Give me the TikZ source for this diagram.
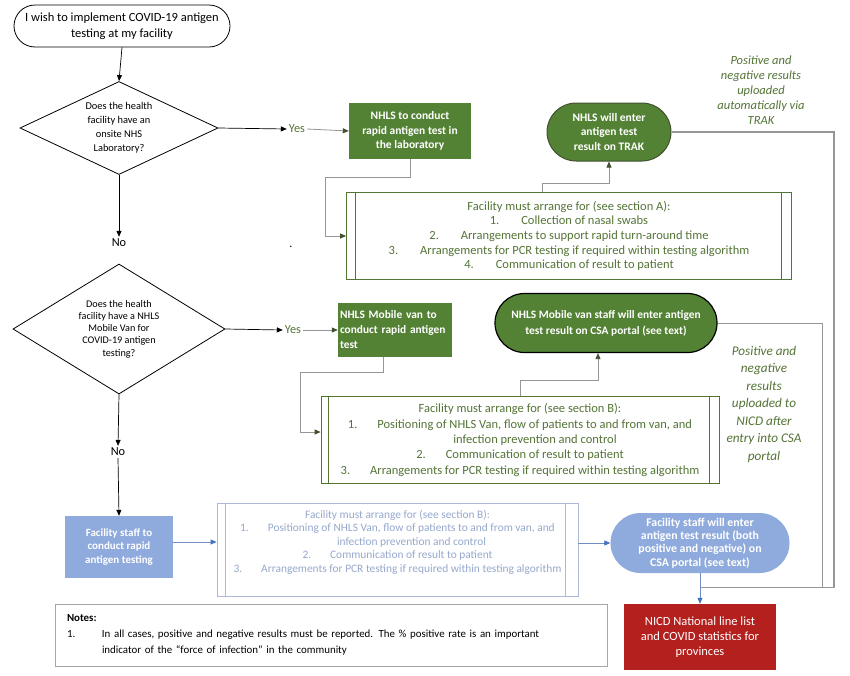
\documentclass[tikz,border=0pt]{standalone}
\usepackage{fontspec}
\setmainfont{Carlito}
\usepackage{tikz}
\usetikzlibrary{shapes.geometric}
\usetikzlibrary{shapes.misc}
\usetikzlibrary{arrows.meta}
\usetikzlibrary{calc}
\usepackage{xcolor}
\definecolor{darkgreen}{RGB}{84,130,53}
\definecolor{textgreen}{RGB}{84,116,54}
\definecolor{tipgreen}{RGB}{66,80,50}
\definecolor{linegray}{RGB}{150,150,150}
\definecolor{lightblue}{RGB}{143,170,220}
\definecolor{bluegray}{RGB}{150,168,205}
\definecolor{blueline}{RGB}{112,142,196}
\definecolor{bluetip}{RGB}{68,114,196}
\definecolor{nicdred}{RGB}{180,32,30}
\newcommand{\fsz}[2]{\fontsize{#1}{#2}\selectfont}
\tikzset{
  terminal/.style={rounded rectangle, draw, align=center, inner sep=2pt},
  question/.style={diamond, draw, align=center, inner sep=0pt, font=\fsz{10.4}{14}},
  greenbox/.style={rectangle, fill=darkgreen, text=white, font=\bfseries\fsz{11.5}{14.5}, inner sep=2pt},
  predefined/.style={rectangle, draw=textgreen, line width=0.8pt, text=textgreen, align=center, inner sep=2pt},
  uploadnote/.style={text=textgreen, font=\itshape\fsz{12.5}{15}, align=center},
  answer/.style={font=\fsz{12.3}{14}, inner sep=2pt},
  blackarrow/.style={draw=black, line width=0.7pt, -{Triangle[length=6pt,width=5pt]}},
  grayarrow/.style={draw=linegray, line width=0.8pt, -{Triangle[length=6pt,width=5pt,color=tipgreen]}},
  grayline/.style={draw=linegray, line width=0.9pt},
  bluearrow/.style={draw=blueline, line width=0.8pt, -{Triangle[length=6pt,width=5pt,color=bluetip]}},
}

\begin{document}
\begin{tikzpicture}[x=1pt, y=-1pt]

%%%%%%%%%%%%%%%%%%%%%%%%%%%%%%%%%%%%%%%%%%%%%%%%%%%%%%%%%%%%%% Setup
\path[fill=white] (0,0) rectangle (850,675);
\useasboundingbox (0,0) rectangle (850,675);

\node[terminal, line width=0.8pt, minimum width=220pt, minimum height=42pt, font=\fsz{12.5}{15.5}] (start) at (122,26)
  {I wish to implement COVID-19 antigen\\testing at my facility};

%%%%%%%%%%%%%%%%%%%%%%%%%%%%%%%%%%%%%%%%%%%%%%%%%%%%%%%%%%%%%% Lab branch
\node[question, aspect=2.13, minimum width=198pt, minimum height=93pt, line width=0.8pt] (qlab) at (119,128)
  {Does the health\\facility have an\\onsite NHS\\Laboratory?};
\node[answer, text=textgreen] (yeslab) at (297,129) {Yes};
\node[answer] (nolab) at (119,243) {No};
\node[font=\fsz{12}{14}] (dot) at (291,247) {.};

\node[greenbox, align=center, minimum width=122pt, minimum height=56pt] (lab) at (410,131)
  {NHLS to conduct\\rapid antigen test in\\the laboratory};
\node[terminal, fill=darkgreen, draw=tipgreen, line width=1pt, text=white, font=\bfseries\fsz{11.5}{14.5},
  minimum width=128pt, minimum height=58pt] (trak) at (609,132)
  {NHLS will enter\\antigen test\\result on TRAK};

\node[predefined, minimum width=445pt, minimum height=87pt, font=\fsz{12.5}{14.6}] (boxA) at (569,236)
  {Facility must arrange for (see section A):\\
   1.\hspace{22pt}Collection of nasal swabs\\
   2.\hspace{22pt}Arrangements to support rapid turn-around time\\
   3.\hspace{22pt}Arrangements for PCR testing if required within testing algorithm\\
   4.\hspace{22pt}Communication of result to patient};
\draw[textgreen, line width=0.8pt] ($(boxA.north west)+(9,0)$) -- ($(boxA.south west)+(9,0)$);
\draw[textgreen, line width=0.8pt] ($(boxA.north east)+(-11,0)$) -- ($(boxA.south east)+(-11,0)$);

\node[uploadnote] (traknote) at (761,90)
  {Positive and\\negative results\\uploaded\\automatically via\\TRAK};

%%%%%%%%%%%%%%%%%%%%%%%%%%%%%%%%%%%%%%%%%%%%%%%%%%%%%%%%%%%%%% Van branch
\node[question, aspect=1.63, minimum width=212pt, minimum height=130pt, line width=0.8pt, font=\fsz{10.2}{12.2}] (qvan) at (119,329)
  {Does the health\\facility have a NHLS\\Mobile Van for\\COVID-19 antigen\\testing?};
\node[answer, text=textgreen] (yesvan) at (293,330) {Yes};
\node[answer] (novan) at (118,452) {No};

\node[greenbox, align=left, text width=110pt, minimum height=54pt, font=\bfseries\fsz{11.4}{15}] (van) at (395,330)
  {NHLS Mobile van to\\conduct rapid antigen\\test};
\node[terminal, fill=darkgreen, draw=black, line width=1.2pt, text=white, font=\bfseries\fsz{11.4}{16},
  minimum width=226pt, minimum height=59pt] (csa) at (606,323)
  {NHLS Mobile van staff will enter antigen\\test result on CSA portal (see text)};

\node[predefined, minimum width=398pt, minimum height=87pt, font=\fsz{12.5}{15.3}] (boxB) at (520,440)
  {Facility must arrange for (see section B):\\
   1.\hspace{20pt}Positioning of NHLS Van, flow of patients to and from van, and\\
   \hspace*{30pt}infection prevention and control\\
   2.\hspace{20pt}Communication of result to patient\\
   3.\hspace{20pt}Arrangements for PCR testing if required within testing algorithm};
\draw[textgreen, line width=0.8pt] ($(boxB.north west)+(8,0)$) -- ($(boxB.south west)+(8,0)$);
\draw[textgreen, line width=0.8pt] ($(boxB.north east)+(-10,0)$) -- ($(boxB.south east)+(-10,0)$);

\node[uploadnote, font=\itshape\fsz{13.2}{17.5}] (csanote) at (764,404)
  {Positive and\\negative\\results\\uploaded to\\NICD after\\entry into CSA\\portal};

%%%%%%%%%%%%%%%%%%%%%%%%%%%%%%%%%%%%%%%%%%%%%%%%%%%%%%%%%%%%%% Facility branch
\node[rectangle, fill=lightblue, text=white, font=\bfseries\fsz{11}{13.7}, align=center,
  minimum width=108pt, minimum height=62pt] (staff) at (119,547)
  {Facility staff to\\conduct rapid\\antigen testing};

\node[predefined, draw=bluegray!80, text=bluegray, minimum width=361pt, minimum height=93pt, font=\fsz{11.4}{13.5}] (boxC) at (397.5,550)
  {Facility must arrange for (see section B):\\
   1.\hspace{19pt}Positioning of NHLS Van, flow of patients to and from van, and\\
   \hspace*{28pt}infection prevention and control\\
   2.\hspace{19pt}Communication of result to patient\\
   3.\hspace{19pt}Arrangements for PCR testing if required within testing algorithm\\[4pt]};
\draw[bluegray!80, line width=0.8pt] ($(boxC.north west)+(9,0)$) -- ($(boxC.south west)+(9,0)$);
\draw[bluegray!80, line width=0.8pt] ($(boxC.north east)+(-13,0)$) -- ($(boxC.south east)+(-13,0)$);

\node[terminal, fill=lightblue, draw=none, text=white, font=\bfseries\fsz{11.8}{13.4}, inner sep=1pt,
  minimum width=181pt, minimum height=60pt] (facterm) at (700,543)
  {Facility staff will enter\\antigen test result (both\\positive and negative) on\\CSA portal (see text)};

\node[rectangle, fill=nicdred, text=white, font=\fsz{12.5}{15}, align=center,
  minimum width=152pt, minimum height=66pt] (nicd) at (700,637)
  {NICD National line list\\and COVID statistics for\\provinces};

\node[rectangle, draw=gray!70, line width=0.8pt, align=left, text width=528pt, inner xsep=12pt,
  minimum height=62pt, font=\fsz{10.9}{16}] (notes) at (331,635)
  {\textbf{Notes:}\\
   \makebox[35pt][l]{1.}In all cases, positive and negative results must be reported. The \% positive rate is an important\\
   \hspace*{35pt}indicator of the “force of infection” in the community};

%%%%%%%%%%%%%%%%%%%%%%%%%%%%%%%%%%%%%%%%%%%%%%%%%%%%%%%%%%%%%% Connectors
\coordinate (join) at ($(facterm.south)+(0,14)$);

\draw[blackarrow] (start.south) -- (qlab.north);
\draw[blackarrow] (qlab.east) -- (yeslab.west);
\draw[grayarrow] (yeslab.east) -- (lab.west);
\draw[blackarrow] (qlab.south) -- (nolab.north);
\draw[grayarrow] (lab.south) -- ++(0,18) -- ++(-85,0) |- (boxA.west);
\draw[grayarrow] ($(boxA.north)+(-27,0)$) -- ++(0,-9) -| (trak.south);
\draw[grayline, line width=1.2pt] (trak.east) -| ($(join)+(134,0)$) -- (join);

\draw[blackarrow] (qvan.east) -- (yesvan.west);
\draw[grayarrow] (yesvan.east) -- (van.west);
\draw[blackarrow] (qvan.south) -- (novan.north);
\draw[blackarrow] (novan.south) -- (staff.north);
\draw[grayarrow] ($(van.south)+(-12,0)$) -- ++(0,15) -- ++(-83,0) |- ($(boxB.west)+(0,-8)$);
\draw[grayarrow] (boxB.north) -- ++(0,-16) -| ($(csa.south)+(-8,0)$);
\draw[grayline] (csa.east) -| ($(join)+(122,0)$);

\draw[bluearrow] ($(staff.east)+(0,-5)$) -- ($(boxC.west)+(0,-8)$);
\draw[bluearrow] ($(boxC.east)+(0,-7)$) -- (facterm.west);
\draw[bluearrow] (facterm.south) -- (nicd.north);

\end{tikzpicture}
\end{document}
